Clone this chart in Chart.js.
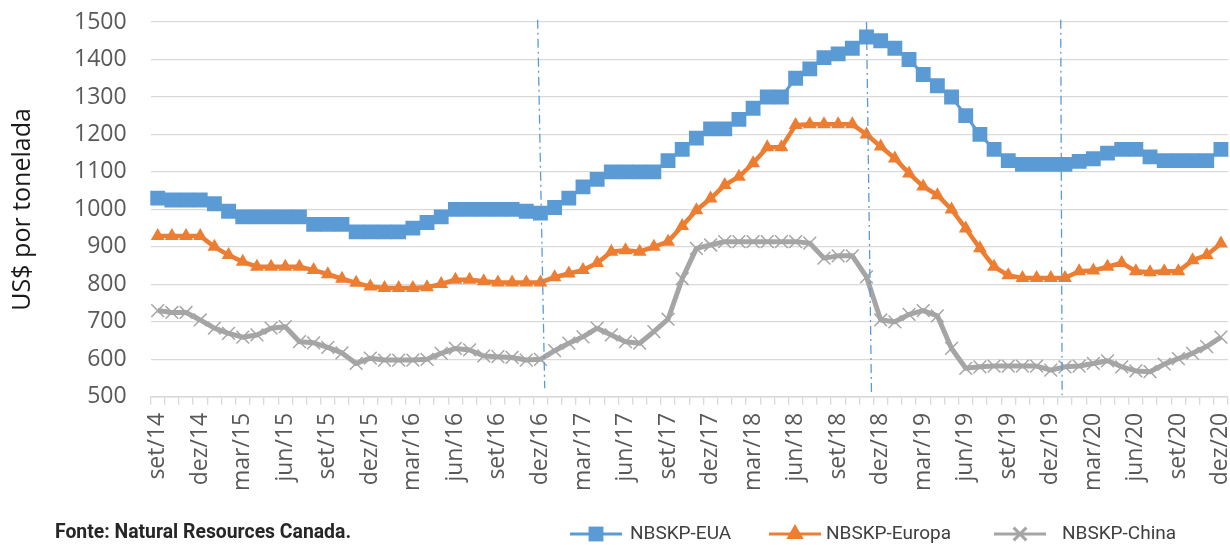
<!DOCTYPE html>
<html>
<head>
<meta charset="utf-8">
<script src="https://cdn.jsdelivr.net/npm/chart.js@4.4.1/dist/chart.umd.min.js"></script>
<style>
  html, body { margin: 0; padding: 0; background: #fff; }
  #wrap { width: 1230px; height: 545px; }
</style>
</head>
<body>
<div id="wrap"><canvas id="chart" width="1230" height="545"></canvas></div>
<script>
// months, set/14 .. dez/20
const months = [
  'set/14','out/14','nov/14','dez/14',
  'jan/15','fev/15','mar/15','abr/15','mai/15','jun/15','jul/15','ago/15','set/15','out/15','nov/15','dez/15',
  'jan/16','fev/16','mar/16','abr/16','mai/16','jun/16','jul/16','ago/16','set/16','out/16','nov/16','dez/16',
  'jan/17','fev/17','mar/17','abr/17','mai/17','jun/17','jul/17','ago/17','set/17','out/17','nov/17','dez/17',
  'jan/18','fev/18','mar/18','abr/18','mai/18','jun/18','jul/18','ago/18','set/18','out/18','nov/18','dez/18',
  'jan/19','fev/19','mar/19','abr/19','mai/19','jun/19','jul/19','ago/19','set/19','out/19','nov/19','dez/19',
  'jan/20','fev/20','mar/20','abr/20','mai/20','jun/20','jul/20','ago/20','set/20','out/20','nov/20','dez/20'
];

const eua = [
  1030, 1025, 1025, 1025,
  1015, 995, 980, 980, 980, 980, 980, 960, 960, 960, 940, 940,
  940, 940, 950, 965, 980, 1000, 1000, 1000, 1000, 1000, 995, 990,
  1005, 1030, 1060, 1080, 1100, 1100, 1100, 1100, 1130, 1160, 1190, 1215,
  1215, 1240, 1270, 1300, 1300, 1350, 1375, 1405, 1415, 1430, 1460, 1450,
  1430, 1400, 1360, 1330, 1300, 1250, 1200, 1160, 1130, 1120, 1120, 1120,
  1120, 1128, 1135, 1150, 1160, 1160, 1140, 1130, 1130, 1130, 1130, 1160
];

const europa = [
  929, 929, 929, 929,
  900, 878, 860, 847, 847, 847, 847, 838, 827, 815, 804, 794,
  790, 790, 790, 792, 801, 812, 812, 808, 805, 805, 805, 805,
  819, 829, 838, 857, 887, 891, 887, 900, 914, 956, 998, 1029,
  1065, 1087, 1123, 1166, 1166, 1225, 1227, 1227, 1227, 1227, 1200, 1168,
  1136, 1096, 1061, 1038, 1000, 949, 896, 847, 824, 817, 817, 817,
  817, 835, 837, 847, 857, 835, 832, 835, 835, 864, 878, 909
];

const china = [
  730, 725, 725, 705,
  683, 669, 659, 665, 683, 687, 647, 644, 632, 617, 589, 603,
  598, 598, 598, 600, 616, 629, 625, 609, 607, 605, 598, 600,
  623, 643, 660, 683, 665, 647, 643, 674, 707, 815, 896, 905,
  914, 914, 914, 914, 914, 914, 910, 870, 876, 876, 820, 705,
  700, 720, 730, 716, 629, 576, 580, 582, 582, 582, 582, 571,
  580, 582, 589, 596, 580, 569, 567, 587, 602, 616, 634, 659
];

const seriesNames = ['NBSKP-EUA', 'NBSKP-Europa', 'NBSKP-China'];
const yMin = 500, yMax = 1500, yStep = 100;

// dash-dot guide lines (category index at top / bottom, value at top / bottom)
const guideStart = [26.8, 50.0, 63.7];
const guideEnd = [27.3, 50.35, 63.8];
const guideTop = [1506, 1500, 1506];
const guideBottom = [523, 512, 504];

const BLUE = '#5B9BD5', ORANGE = '#ED7D31', GRAY = '#A5A5A5', GRID = '#D9D9D9';

const guides = {
  id: 'guides',
  afterDatasetsDraw(chart) {
    const { ctx, scales: { x, y } } = chart;
    ctx.save();
    ctx.strokeStyle = BLUE;
    ctx.lineWidth = 1.3;
    ctx.setLineDash([9, 4, 2, 4]);
    guideStart.forEach((s, k) => {
      ctx.beginPath();
      ctx.moveTo(x.getPixelForValue(s), y.getPixelForValue(guideTop[k]));
      ctx.lineTo(x.getPixelForValue(guideEnd[k]), y.getPixelForValue(guideBottom[k]));
      ctx.stroke();
    });
    ctx.restore();
  }
};

// legend + source note under the chart
const footer = {
  id: 'footer',
  afterDraw(chart) {
    const { ctx } = chart;
    const ly = 534;
    const lineX = [570, 769, 994];
    const textX = [630, 826, 1062];
    ctx.save();
    chart.data.datasets.forEach((ds, i) => {
      ctx.strokeStyle = ds.borderColor;
      ctx.lineWidth = 3;
      ctx.beginPath();
      ctx.moveTo(lineX[i], ly);
      ctx.lineTo(lineX[i] + 52, ly);
      ctx.stroke();
      ctx.fillStyle = ds.backgroundColor;
      ctx.strokeStyle = ds.pointBorderColor || ds.borderColor;
      Chart.helpers.drawPoint(ctx, {
        pointStyle: ds.pointStyle,
        radius: ds.pointStyle === 'triangle' ? 10 : ds.pointRadius,
        borderWidth: ds.pointStyle === 'crossRot' ? 2 : 0,
        rotation: 0
      }, lineX[i] + 26, ly);
      ctx.fillStyle = '#404040';
      ctx.font = '19px Roboto';
      ctx.textBaseline = 'middle';
      ctx.textAlign = 'left';
      ctx.fillText(ds.label, textX[i], ly);
    });

    const note = 'Fonte: Natural Resources Canada.';
    ctx.font = 'bold 20px Roboto';
    ctx.fillStyle = '#262626';
    ctx.textBaseline = 'alphabetic';
    const w = ctx.measureText(note).width;
    ctx.translate(55, 538);
    ctx.scale(296 / w, 1);
    ctx.fillText(note, 0, 0);
    ctx.restore();
  }
};

const noPad = (s) => { s.paddingLeft = 0; s.paddingRight = 0; s.paddingTop = 0; s.paddingBottom = 0; };

new Chart(document.getElementById('chart'), {
  type: 'line',
  data: {
    labels: months,
    datasets: [
      {
        label: seriesNames[0], data: eua,
        borderColor: BLUE, backgroundColor: BLUE, borderWidth: 3,
        pointStyle: 'rect', pointRadius: 10.5, pointBorderWidth: 0, pointHoverRadius: 10.5
      },
      {
        label: seriesNames[1], data: europa,
        borderColor: ORANGE, backgroundColor: ORANGE, borderWidth: 4.5,
        pointStyle: 'triangle', pointRadius: 8, pointBorderWidth: 0, pointHoverRadius: 8
      },
      {
        label: seriesNames[2], data: china,
        borderColor: GRAY, backgroundColor: GRAY, borderWidth: 5,
        borderJoinStyle: 'round',
        pointStyle: 'crossRot', pointRadius: 9, pointBorderWidth: 1.5,
        pointBorderColor: GRAY, pointHoverRadius: 9
      }
    ]
  },
  options: {
    responsive: false,
    animation: false,
    devicePixelRatio: 1,
    layout: { autoPadding: false, padding: { top: 22, left: 8, right: 2, bottom: 46 } },
    elements: { line: { tension: 0 } },
    scales: {
      x: {
        offset: true,
        grid: { offset: true, drawOnChartArea: false, drawTicks: true, tickLength: 8, color: GRID, lineWidth: 1.3 },
        border: { display: true, color: GRID, width: 1.5 },
        ticks: {
          autoSkip: false, minRotation: 90, maxRotation: 90, padding: 8,
          color: '#595959', font: { family: 'Open Sans', size: 23 },
          callback: (v, i) => (i % 3 === 0 ? months[i] : '')
        },
        afterFit: noPad
      },
      y: {
        min: yMin, max: yMax,
        ticks: {
          stepSize: yStep, padding: 24, color: '#595959', font: { family: 'Open Sans', size: 23 },
          callback: (v) => String(v)
        },
        grid: { color: GRID, lineWidth: 1.3, drawTicks: false },
        border: { display: false },
        title: {
          display: true, text: 'US$ por tonelada', color: '#1a1a1a',
          font: { family: 'Open Sans', size: 25 }, padding: { top: 0, bottom: 12 }
        },
        afterFit: noPad
      }
    },
    plugins: {
      legend: { display: false },
      tooltip: { enabled: false }
    }
  },
  plugins: [guides, footer]
});
</script>
</body>
</html>
